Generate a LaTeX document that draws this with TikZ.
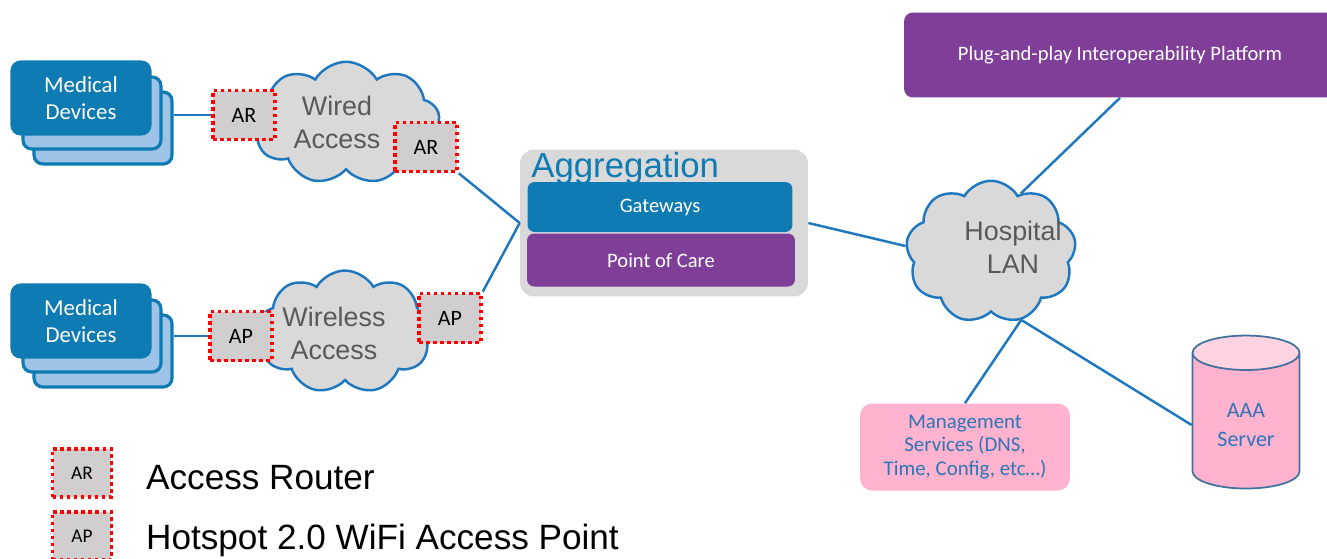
\documentclass[tikz,border=0pt]{standalone}
\usepackage{fontspec}
\setmainfont{Carlito}
\newfontfamily\arialfont{Liberation Sans}
\usetikzlibrary{shapes.symbols,shapes.geometric}

\definecolor{medblue}{HTML}{0F7BB3}
\definecolor{medlight}{HTML}{9DC3E6}
\definecolor{linkblue}{HTML}{1F77BE}
\definecolor{cloudgray}{HTML}{D9D9D9}
\definecolor{boxgray}{HTML}{D0CECE}
\definecolor{pocpurple}{HTML}{7F3F98}
\definecolor{mgmtpink}{HTML}{FFB3CE}
\definecolor{pinklight}{HTML}{FFD3E2}
\definecolor{textgray}{HTML}{595959}
\definecolor{mgmtblue}{HTML}{2E75B6}
\definecolor{cylstroke}{HTML}{41719C}

\begin{document}
\begin{tikzpicture}[x=0.02cm, y=-0.02cm,
  devfront/.style={draw=medblue, line width=1.8pt, fill=medblue, rounded corners=5pt,
    minimum width=2.76cm, minimum height=1.44cm, text=white, align=center,
    font=\fontsize{13}{15.3}\selectfont},
  devback/.style={devfront, fill=medlight},
  accessbox/.style={draw=red, line width=2pt, dash pattern=on 2pt off 2pt, fill=boxgray,
    minimum width=1.24cm, minimum height=0.98cm, font=\fontsize{12.5}{14}\selectfont},
  netcloud/.style={cloud, cloud puffs=9, cloud puff arc=120, draw=linkblue,
    line width=1.4pt, fill=cloudgray, inner sep=0pt},
  cloudtext/.style={font=\arialfont\fontsize{15.3}{18.7}\selectfont, text=textgray, align=center},
  barbox/.style={rounded corners=4pt, text=white, font=\fontsize{11.7}{14}\selectfont},
  link/.style={draw=linkblue, line width=1.4pt},
  legendtext/.style={anchor=west, font=\arialfont\fontsize{20}{24}\selectfont}]

  \useasboundingbox (0,0) rectangle (1327,558);

  % Medical device stacks
  \foreach \y/\n in {98/A,321/B} {
    \node[devback] (md\n3) at (103,\y+30) {};
    \node[devback] (md\n2) at (92,\y+15) {};
    \node[devfront] (md\n1) at (81,\y) {Medical\\Devices};
  }

  % Access clouds
  \node[netcloud, minimum width=3.75cm, minimum height=2.45cm] (wired) at (346,123) {};
  \node[netcloud, minimum width=3.5cm, minimum height=2.46cm] (wireless) at (345,332) {};
  \node[cloudtext] (wiredtext) at (337,122) {Wired\\Access};
  \node[cloudtext] (wirelesstext) at (334,333) {Wireless\\Access};

  % Access routers and access points
  \node[accessbox] (ar1) at (244,115) {AR};
  \node[accessbox] (ar2) at (426,147) {AR};
  \node[accessbox] (ap1) at (241,336) {AP};
  \node[accessbox] (ap2) at (450,318) {AP};

  % Aggregation block
  \node[fill=cloudgray, rounded corners=8pt, minimum width=5.76cm, minimum height=2.94cm] (agg) at (664,223) {};
  \node[anchor=base west, text=medblue, inner sep=0pt, font=\arialfont\fontsize{19.8}{22}\selectfont] (aggtitle) at (531,177) {Aggregation};
  \node[barbox, fill=medblue, minimum width=5.3cm, minimum height=1cm] (gw) at (660,207) {Gateways};
  \node[barbox, fill=pocpurple, minimum width=5.36cm, minimum height=1.06cm] (poc) at (661,260) {Point of Care};

  % Hospital side
  \node[netcloud, minimum width=3.4cm, minimum height=2.85cm] (lan) at (991,252) {};
  \node[cloudtext] (lantext) at (1013,247) {Hospital\\LAN};
  \node[barbox, rounded corners=5pt, fill=pocpurple, minimum width=8.64cm, minimum height=1.7cm] (plug) at (1120,55) {Plug-and-play Interoperability Platform};
  \node[fill=mgmtpink, rounded corners=7pt, minimum width=4.2cm, minimum height=1.74cm, text=mgmtblue, align=center,
    font=\fontsize{11.9}{13.6}\selectfont] (mgmt) at (965,447) {Management\\Services (DNS,\\Time, Config, etc…)};
  \node[cylinder, shape border rotate=90, aspect=0.5, draw=cylstroke, line width=1pt,
    cylinder uses custom fill, cylinder body fill=mgmtpink, cylinder end fill=pinklight,
    minimum width=2.14cm, minimum height=3.06cm, text=mgmtblue, align=center,
    font=\fontsize{12.5}{16}\selectfont] (aaa) at (1246,425) {AAA\\Server};

  % Legend
  \node[accessbox, minimum width=1.18cm, minimum height=0.96cm, font=\fontsize{11}{13}\selectfont] (legar) at (82,473) {AR};
  \node[accessbox, minimum width=1.18cm, minimum height=0.96cm, font=\fontsize{11}{13}\selectfont] (legap) at (82,536) {AP};
  \node[legendtext] (legartext) at (140,478) {Access Router};
  \node[legendtext] (legaptext) at (140,540) {Hotspot 2.0 WiFi Access Point};

  % Connectors
  \draw[link] (ar1.west) -- (ar1.west -| mdA3.east);
  \draw[link] (ap1.west) -- (ap1.west -| mdB3.east);
  \draw[link] (ar2.south east) -- (agg.west);
  \draw[link] (ap2.north east) -- (agg.west);
  \draw[link] (agg.east) -- (lan.176);
  \draw[link] (plug.south) -- (lan.63);
  \draw[link] (lan.294) -- (mgmt.north);
  \draw[link] (lan.294) -- (aaa.west);
\end{tikzpicture}
\end{document}
